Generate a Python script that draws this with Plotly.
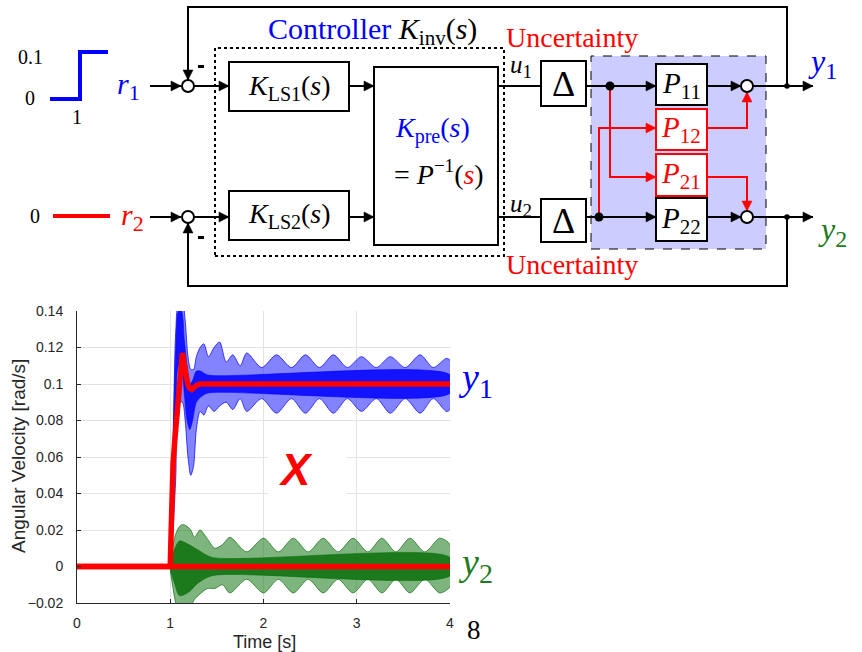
import plotly.graph_objects as go

# ---------------- data ----------------
# nominal responses (red)
t_nom = [0, 1.00, 1.01, 1.02, 1.03, 1.05, 1.07, 1.09, 1.11, 1.12, 1.13, 1.15, 1.17, 1.19, 1.21, 1.23, 1.25, 1.28, 1.32, 1.40, 4.00]
y1_nom = [0, 0, 0.02, 0.04, 0.056, 0.07, 0.083, 0.097, 0.111, 0.116, 0.117, 0.111, 0.104, 0.0995, 0.0975, 0.097, 0.0978, 0.0993, 0.1, 0.1, 0.1]
t_nom2 = [0, 4.0]
y2_nom = [0, 0]

# y1 perturbed bundle: outer envelope
t_b = [1.00, 1.03, 1.06, 1.09, 1.13, 1.16, 1.19, 1.22, 1.25, 1.28, 1.32, 1.36, 1.41, 1.47, 1.53, 1.60, 1.67, 1.75, 1.82,
       1.98, 2.14, 2.30, 2.45, 2.60, 2.75, 2.90, 3.05, 3.21, 3.36, 3.52, 3.68, 3.82, 3.96, 4.00]
up_b = [0.0, 0.07, 0.13, 0.145, 0.145, 0.135, 0.115, 0.108, 0.108, 0.115, 0.12, 0.122, 0.115, 0.12, 0.123, 0.112, 0.116, 0.11, 0.117,
        0.109, 0.116, 0.109, 0.116, 0.109, 0.116, 0.109, 0.115, 0.109, 0.115, 0.109, 0.116, 0.109, 0.114, 0.113]
lo_b = [0.0, 0.02, 0.05, 0.09, 0.09, 0.08, 0.06, 0.05, 0.055, 0.075, 0.085, 0.083, 0.088, 0.085, 0.088, 0.09, 0.086, 0.092, 0.085,
        0.092, 0.084, 0.092, 0.084, 0.092, 0.084, 0.092, 0.085, 0.092, 0.084, 0.092, 0.084, 0.092, 0.085, 0.086]
# y1 bundle: dense core
t_bc = [1.00, 1.03, 1.06, 1.09, 1.12, 1.15, 1.18, 1.21, 1.24, 1.28, 1.33, 1.40, 4.00]
hi_bc = [0.0, 0.06, 0.12, 0.14, 0.14, 0.125, 0.11, 0.10, 0.102, 0.107, 0.107, 0.105, 0.105]
lo_bc = [0.0, 0.03, 0.08, 0.11, 0.11, 0.095, 0.08, 0.075, 0.08, 0.09, 0.093, 0.095, 0.095]

# y2 perturbed bundle: outer envelope
t_g = [1.00, 1.03, 1.06, 1.10, 1.14, 1.18, 1.22, 1.26, 1.32, 1.40, 1.48, 1.56, 1.64, 1.82, 2.00, 2.16, 2.32, 2.48, 2.64,
       2.80, 2.96, 3.12, 3.27, 3.42, 3.57, 3.73, 3.89, 4.00]
up_g = [0.0, 0.012, 0.018, 0.022, 0.023, 0.022, 0.02, 0.016, 0.02, 0.015, 0.01, 0.012, 0.016, 0.008, 0.0155, 0.008, 0.0155, 0.008,
        0.0155, 0.008, 0.0155, 0.008, 0.0155, 0.008, 0.0155, 0.008, 0.0155, 0.012]
lo_g = [0.0, -0.012, -0.02, -0.025, -0.025, -0.025, -0.022, -0.018, -0.015, -0.012, -0.012, -0.01, -0.0145, -0.007, -0.0145, -0.007,
        -0.0145, -0.007, -0.0145, -0.007, -0.0145, -0.007, -0.0145, -0.007, -0.0145, -0.007, -0.0145, -0.011]
# y2 bundle: dense core
t_gc = [1.0, 1.05, 1.10, 1.20, 1.30, 1.45, 4.0]
hi_gc = [0.0, 0.01, 0.014, 0.012, 0.009, 0.005, 0.005]
lo_gc = [0.0, -0.01, -0.016, -0.014, -0.009, -0.005, -0.005]

x_ticks = [0, 1, 2, 3, 4]
y_ticks = [-0.02, 0, 0.02, 0.04, 0.06, 0.08, 0.1, 0.12, 0.14]
y_ticktext = ['\u22120.02', '0', '0.02', '0.04', '0.06', '0.08', '0.1', '0.12', '0.14']

BLUE = '#0000ff'
GREEN = '#1e7a1e'
RED = '#ff0000'

# ---------------- figure ----------------
W, H = 862, 652
fig = go.Figure()


def band(t, hi, lo, fillcolor, linecolor, lw):
    fig.add_trace(go.Scatter(x=list(t) + list(t)[::-1], y=list(hi) + list(lo)[::-1], mode='lines',
                             fill='toself', fillcolor=fillcolor,
                             line=dict(color=linecolor, width=lw, shape='spline', smoothing=0.8),
                             hoverinfo='skip', showlegend=False))


band(t_b, up_b, lo_b, 'rgba(30,30,255,0.55)', 'rgba(0,0,255,0.9)', 0.8)
band(t_bc, hi_bc, lo_bc, 'rgba(0,0,255,0.85)', 'rgba(0,0,255,0.9)', 0.6)
band(t_g, up_g, lo_g, 'rgba(20,120,20,0.55)', 'rgba(20,110,20,0.9)', 0.8)
band(t_gc, hi_gc, lo_gc, 'rgba(10,110,10,0.85)', 'rgba(10,110,10,0.9)', 0.6)

fig.add_trace(go.Scatter(x=t_nom2, y=y2_nom, mode='lines', line=dict(color=RED, width=5.5), showlegend=False))
fig.add_trace(go.Scatter(x=t_nom, y=y1_nom, mode='lines', line=dict(color=RED, width=5.5), showlegend=False))

# ---------------- diagram helpers (pixel -> paper) ----------------
def X(px):
    return px / W


def Y(py):
    return 1 - py / H


shapes = []


def poly(points, color='black', width=2, dash='solid'):
    d = 'M ' + ' L '.join(f'{X(a):.5f},{Y(b):.5f}' for a, b in points)
    shapes.append(dict(type='path', path=d, xref='paper', yref='paper',
                       line=dict(color=color, width=width, dash=dash), layer='above'))


def head(x, y, dirn, color='black', L=10, hw=5):
    if dirn == 'r':
        pts = [(x, y), (x - L, y - hw), (x - L, y + hw)]
    elif dirn == 'l':
        pts = [(x, y), (x + L, y - hw), (x + L, y + hw)]
    elif dirn == 'd':
        pts = [(x, y), (x - hw, y - L), (x + hw, y - L)]
    else:
        pts = [(x, y), (x - hw, y + L), (x + hw, y + L)]
    d = 'M ' + ' L '.join(f'{X(a):.5f},{Y(b):.5f}' for a, b in pts) + ' Z'
    shapes.append(dict(type='path', path=d, xref='paper', yref='paper',
                       fillcolor=color, line=dict(color=color, width=0.5), layer='above'))


def box(x0, y0, x1, y1, color='black', fill='white', width=2, dash='solid'):
    shapes.append(dict(type='rect', xref='paper', yref='paper', x0=X(x0), x1=X(x1), y0=Y(y1), y1=Y(y0),
                       fillcolor=fill, line=dict(color=color, width=width, dash=dash), layer='above'))


def circ(cx, cy, r, fill='white', color='black', width=2):
    shapes.append(dict(type='circle', xref='paper', yref='paper', x0=X(cx - r), x1=X(cx + r),
                       y0=Y(cy + r), y1=Y(cy - r), fillcolor=fill, line=dict(color=color, width=width),
                       layer='above'))


annots = []


def txt(px, py, text, size, color='black', family='Liberation Serif', **kw):
    d = dict(x=X(px), y=Y(py), xref='paper', yref='paper', text=text, showarrow=False,
             xanchor='center', yanchor='middle', font=dict(family=family, size=size, color=color))
    d.update(kw)
    annots.append(d)


def sub(s, size):
    return f"<sub><span style='font-size:{size}px'>{s}</span></sub>"


R1, R2 = 86, 217

# background regions
box(591, 56, 766, 249, color='black', fill='#ccccff', width=1, dash='dash')
box(215, 48, 504, 256, color='black', fill='rgba(0,0,0,0)', width=2, dash='dot')

# reference signals
poly([(50, 99), (80, 99), (80, 52), (108, 52)], color=BLUE, width=4)
poly([(53, 216), (110, 216)], color=RED, width=4)

# black signal lines
for r in (R1, R2):
    poly([(150, r), (181, r)]); head(181, r, 'r')
    poly([(194, r), (229, r)]); head(229, r, 'r')
    poly([(349, r), (374, r)]); head(374, r, 'r')
    poly([(498, r), (541, r)])
    poly([(586, r), (656, r)]); head(656, r, 'r')
    poly([(707, r), (741, r)]); head(741, r, 'r')
    poly([(753, r), (813, r)]); head(813, r, 'r')

# feedback loops
poly([(787, R1), (787, 7), (188, 7), (188, 80)]); head(188, 80, 'd')
poly([(787, R2), (787, 286), (188, 286), (188, 223)]); head(188, 223, 'u')

# red cross couplings
poly([(610, R1), (610, 177), (656, 177)], color=RED); head(656, 177, 'r', color=RED)
poly([(599, R2), (599, 128), (656, 128)], color=RED); head(656, 128, 'r', color=RED)
poly([(707, 128), (747, 128), (747, 92)], color=RED); head(747, 92, 'u', color=RED)
poly([(707, 177), (747, 177), (747, 211)], color=RED); head(747, 211, 'd', color=RED)

# blocks
box(229, 62, 349, 111)
box(229, 191, 349, 240)
box(374, 67, 498, 245)
box(541, 61, 586, 106)
box(541, 199, 586, 242)
box(656, 64, 707, 105)
box(656, 109, 707, 150, color=RED)
box(656, 154, 707, 196, color=RED)
box(656, 198, 707, 241)

# summing junctions & branch points
for cx, cy in [(188, R1), (188, R2), (747, R1), (747, R2)]:
    circ(cx, cy, 6)
circ(610, R1, 4.5, fill='black', width=0)
circ(599, R2, 4.5, fill='black', width=0)
circ(787, R1, 2.8, fill='black', width=0)
circ(787, R2, 2.8, fill='black', width=0)
# minus signs
box(198, 65, 204, 68, fill='black', width=0)
box(198, 236, 204, 239, fill='black', width=0)

# white patch behind the red X
box(268, 442, 347, 502, color='white', fill='white', width=0)

# diagram texts
txt(30, 57, '0.1', 20)
txt(30, 98, '0', 20)
txt(77, 117, '1', 20)
txt(35, 216, '0', 20)
txt(128, 86, '<i>r</i>' + sub('1', 22), 30, color=BLUE)
txt(132, 217, '<i>r</i>' + sub('2', 22), 30, color=RED)
txt(372, 31, "<span style='color:#0000ff'>Controller</span> <i>K</i>" + sub('inv', 21) + "(<i>s</i>)", 30)
txt(289, 87, '<i>K</i>' + sub('LS1', 20) + '(<i>s</i>)', 28)
txt(289, 216, '<i>K</i>' + sub('LS2', 20) + '(<i>s</i>)', 28)
txt(432, 130, '<i>K</i>' + sub('pre', 20) + '(<i>s</i>)', 28, color=BLUE)
txt(439, 172, "= <i>P</i><sup><span style='font-size:19px'>\u22121</span></sup>(<span style='color:#ff0000'><i>s</i></span>)", 28)
txt(521, 67, '<i>u</i>' + sub('1', 19), 25)
txt(521, 206, '<i>u</i>' + sub('2', 19), 25)
txt(563, 84, '\u0394', 36)
txt(563, 221, '\u0394', 36)
txt(572, 37, 'Uncertainty', 28, color=RED)
txt(572, 264, 'Uncertainty', 28, color=RED)
txt(681, 85, '<i>P</i>' + sub('11', 21), 29)
txt(681, 130, '<i>P</i>' + sub('12', 21), 29, color=RED)
txt(681, 175, '<i>P</i>' + sub('21', 21), 29, color=RED)
txt(681, 220, '<i>P</i>' + sub('22', 21), 29)
txt(822, 64, '<i>y</i>' + sub('1', 24), 32, color=BLUE)
txt(832, 232, '<i>y</i>' + sub('2', 24), 32, color=GREEN)

# plot side texts
txt(476, 380, '<i>y</i>' + sub('1', 28), 38, color=BLUE)
txt(475, 565, '<i>y</i>' + sub('2', 28), 38, color=GREEN)
txt(295, 470, '<b><i>X</i></b>', 44, color=RED, family='Liberation Sans')
txt(474, 630, '8', 27)
txt(264, 642, 'Time [s]', 18, color='#262626', family='Liberation Sans')
txt(18, 456, 'Angular Velocity [rad/s]', 19, color='#262626', family='Liberation Sans', textangle=-90)

fig.update_layout(
    width=W, height=H, autosize=False,
    margin=dict(l=0, r=0, t=0, b=0),
    paper_bgcolor='white', plot_bgcolor='white',
    showlegend=False,
    shapes=shapes, annotations=annots,
    xaxis=dict(domain=[77 / W, 450 / W], range=[0, 4], tickvals=x_ticks, ticktext=[str(v) for v in x_ticks],
               showgrid=True, gridcolor='#e3e3e3', gridwidth=1, zeroline=False,
               showline=True, linecolor='#262626', linewidth=1, mirror=False,
               ticks='inside', ticklen=4, tickcolor='#262626',
               tickfont=dict(family='Liberation Sans', size=14, color='#262626'),
               ticklabelstandoff=7, automargin=False),
    yaxis=dict(domain=[(H - 603) / H, (H - 311) / H], range=[-0.02, 0.14], tickvals=y_ticks, ticktext=y_ticktext,
               showgrid=True, gridcolor='#e3e3e3', gridwidth=1, zeroline=False,
               showline=True, linecolor='#262626', linewidth=1, mirror=False,
               ticks='inside', ticklen=4, tickcolor='#262626',
               tickfont=dict(family='Liberation Sans', size=14, color='#262626'),
               ticklabelstandoff=10, automargin=False),
)

fig.write_html('out.html')
